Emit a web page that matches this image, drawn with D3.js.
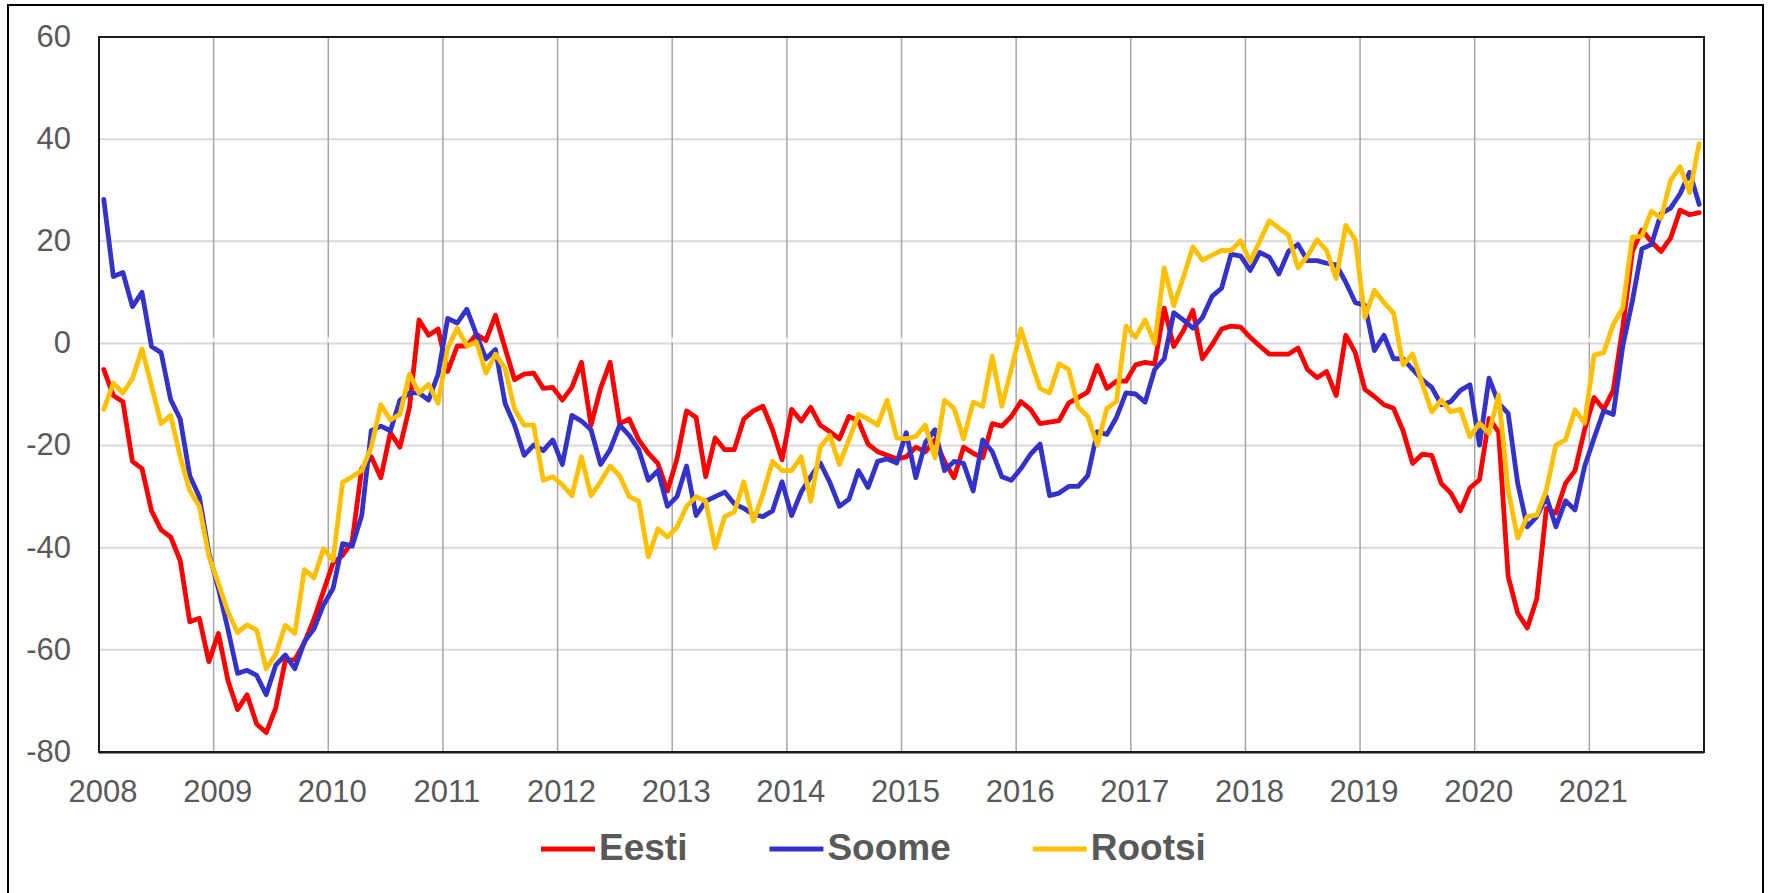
<!DOCTYPE html>
<html>
<head>
<meta charset="utf-8">
<script src="https://cdn.jsdelivr.net/npm/d3@7"></script>
<style>
  html, body { margin: 0; padding: 0; background: #fff; }
  svg { display: block; }
  text { font-family: "Liberation Sans", Arial, sans-serif; fill: #595959; }
</style>
</head>
<body>
<svg id="chart" width="1768" height="893"></svg>
<script>
// aastad (x-telje sildid), igal aastal 12 kuud
const years = ['2008','2009','2010','2011','2012','2013','2014','2015','2016','2017','2018','2019','2020','2021'];
const yTicks = [-80, -60, -40, -20, 0, 20, 40, 60];

// kuised väärtused 2008-01 ... 2021-12
const eesti = [
  -5.1, -10.2, -11.4, -23.1, -24.5, -32.8, -36.5, -37.9, -42.5, -54.5, -53.8, -62.3,
  -56.8, -66, -71.7, -68.8, -74.5, -76.2, -71.4, -62.1, -61.9, -58.6, -54, -48.5,
  -43, -41.5, -38.8, -24.5, -22.2, -26.3, -17.5, -20.3, -12.5, 4.6, 1.6, 2.8,
  -5.5, -0.5, -0.5, 1.8, 0.6, 5.5, -0.9, -7.1, -6, -5.8, -8.8, -8.6,
  -11.1, -8.6, -3.7, -16, -8.8, -3.7, -15.7, -14.8, -18.9, -21.5, -23.5, -28.9,
  -22.6, -13.2, -14.5, -26.1, -18.5, -20.8, -20.8, -14.8, -13.2, -12.3, -16.9, -22.8,
  -12.9, -15.2, -12.5, -16, -17.3, -18.7, -14.3, -15.2, -19.7, -21.2, -21.9, -22.6,
  -22.2, -20.3, -21.2, -18.9, -23.1, -26.3, -20.3, -21.5, -22.4, -15.7, -16.2, -14.3,
  -11.4, -12.9, -15.7, -15.4, -15.1, -11.7, -10.6, -9.5, -4.3, -8.8, -7.4, -7.4,
  -4.2, -3.7, -4, 6.9, -0.6, 2.5, 6.5, -3, -0.3, 2.8, 3.4, 3.2,
  1.2, -0.5, -2.1, -2.1, -2.1, -0.9, -5.1, -6.7, -5.5, -10.2, 1.6, -1.8,
  -9, -10.4, -12, -12.7, -17.1, -23.5, -21.7, -21.9, -27.4, -29.3, -32.8, -28.3,
  -26.7, -14.7, -17.3, -45.6, -52.8, -55.7, -50, -32.3, -33.2, -27.4, -24.9, -16.9,
  -10.6, -12.9, -9.2, 3.2, 18, 22.2, 19.9, 18, 20.6, 26.1, 25.2, 25.6
];

const soome = [
  28.2, 13.1, 13.9, 7.2, 10, -0.6, -1.8, -11, -14.8, -25.9, -30, -41,
  -48, -56, -64.6, -64, -65, -68.8, -63, -61, -63.7, -58.4, -55.9, -51.2,
  -48, -39.2, -39.7, -33.7, -17.1, -16.2, -17.1, -11.1, -9.7, -9.7, -11.1, -6,
  4.9, 4, 6.7, 1.8, -3, -1.2, -11.7, -16, -21.9, -19.9, -21, -18.9,
  -23.7, -14.1, -15.2, -16.9, -23.7, -20.8, -16, -18, -20.8, -26.8, -24.9, -31.9,
  -30, -24, -33.7, -30.9, -30, -29.1, -31.4, -32.3, -33.5, -33.9, -32.8, -27.1,
  -33.7, -29.1, -26.1, -23.4, -27.2, -31.9, -30.5, -24.9, -28.2, -23.1, -22.6, -23.4,
  -17.5, -26.3, -19.4, -16.9, -24.9, -23.1, -23.5, -28.9, -18.9, -21.2, -26.1, -26.8,
  -24.5, -21.7, -19.7, -29.8, -29.3, -28, -28, -25.9, -17.3, -17.8, -14.5, -9.7,
  -9.9, -11.5, -5.1, -3, 6, 4.6, 3, 5.1, 9.2, 10.8, 17.5, 17.1,
  14.3, 17.8, 16.9, 13.6, 18, 19.4, 16.2, 16.2, 15.7, 15.4, 12, 8,
  7.5, -1.4, 1.6, -3, -3, -5.1, -7.1, -8.6, -12, -11.4, -9.2, -8.1,
  -19.9, -6.8, -11.7, -13.7, -27.4, -35.9, -33.9, -30, -35.9, -30.8, -32.6, -24.1,
  -18.5, -13.2, -13.9, -0.5, 8.3, 18.5, 19.4, 25.4, 26.5, 29.3, 33.5, 27.2
];

const rootsi = [
  -12.9, -7.8, -9.7, -6.9, -1.1, -8.3, -15.7, -14.1, -22.2, -28.8, -31.9, -41.6,
  -47, -52.6, -56.6, -55.1, -56.1, -63.7, -60.9, -55.2, -56.8, -44.3, -45.9, -40.2,
  -42.5, -27.2, -26.1, -24.9, -20.3, -12, -15, -13.9, -6, -9.7, -8, -11.7,
  -0.9, 3, -0.5, 0.3, -5.8, -2.1, -4.9, -12.9, -16, -16, -26.8, -26.1,
  -27.7, -29.8, -22.2, -29.8, -27.1, -24, -25.9, -30, -30.9, -41.8, -36.3, -37.9,
  -36, -31.9, -30, -30.9, -40, -33.9, -33, -27.1, -34.8, -29.5, -23.1, -24.9,
  -24.9, -22.2, -30.9, -20.3, -18, -23.7, -18.9, -13.9, -14.8, -16, -11.1, -18.5,
  -18.7, -18.2, -16, -22.4, -11.1, -12.7, -18.7, -11.5, -12.3, -2.5, -12.3, -5.1,
  2.8, -3.2, -8.8, -9.7, -4, -5.1, -12.5, -14.3, -19.9, -12.7, -11.4, 3.4,
  1.2, 4.6, 0, 14.8, 7.4, 12.9, 18.9, 16.3, 17.3, 18.2, 18.2, 20.1,
  16, 20, 24, 22.6, 21.2, 14.8, 17.1, 20.3, 18.2, 12.7, 23.1, 20.3,
  5.1, 10.4, 8, 6, -4.2, -2.1, -7.8, -13.4, -11.1, -13.4, -12.9, -18.3,
  -15.6, -17.6, -10.1, -28.7, -38.1, -33.9, -33.6, -28.7, -19.9, -18.9, -13, -15.6,
  -2.3, -1.8, 3.7, 6.9, 20.8, 21, 25.9, 24.5, 31.9, 34.6, 29.5, 39.1
];

const seriesNames = ['Eesti', 'Soome', 'Rootsi'];
const seriesColors = ['#ff0000', '#3333cc', '#ffc000'];
const seriesData = [eesti, soome, rootsi];

/* ─── mõõdud ─── */
const W = 1768, H = 893;
const plot = { left: 99, right: 1704, top: 37, bottom: 752 };
const nMonths = years.length * 12;

const svg = d3.select('#chart');
svg.append('rect').attr('width', W).attr('height', H).attr('fill', '#fff');

// välimine raam (alumine serv jääb pildist välja)
svg.append('rect')
  .attr('x', 8).attr('y', 5).attr('width', 1755).attr('height', 910)
  .attr('fill', 'none').attr('stroke', '#000').attr('stroke-width', 2);

const x = d3.scaleLinear().domain([0, nMonths]).range([plot.left, plot.right]);
const y = d3.scaleLinear().domain([-80, 60]).range([plot.bottom, plot.top]);

// horisontaalsed abijooned
svg.append('g')
  .selectAll('line')
  .data(yTicks)
  .join('line')
  .attr('x1', plot.left).attr('x2', plot.right)
  .attr('y1', d => y(d)).attr('y2', d => y(d))
  .attr('stroke', '#d9d9d9').attr('stroke-width', 2);

// vertikaalsed abijooned aastavahetustel
svg.append('g')
  .selectAll('line')
  .data(d3.range(1, years.length))
  .join('line')
  .attr('x1', i => x(i * 12)).attr('x2', i => x(i * 12))
  .attr('y1', plot.top).attr('y2', plot.bottom)
  .attr('stroke', '#a6a6a6').attr('stroke-width', 1.5);

// x-telg nulljoonel: valged kriipsud
svg.append('g')
  .selectAll('line')
  .data(d3.range(0, years.length + 1))
  .join('line')
  .attr('x1', i => x(i * 12)).attr('x2', i => x(i * 12))
  .attr('y1', y(0) - 6).attr('y2', y(0) - 1)
  .attr('stroke', '#f2f2f2').attr('stroke-width', 2);

// telgede sildid
svg.append('g')
  .selectAll('text')
  .data(yTicks)
  .join('text')
  .attr('x', 71).attr('y', d => y(d)).attr('dy', '0.32em')
  .attr('text-anchor', 'end').attr('font-size', 31)
  .text(d => d);

svg.append('g')
  .selectAll('text')
  .data(years)
  .join('text')
  .attr('x', (d, i) => x(i * 12) + 4).attr('y', 802)
  .attr('text-anchor', 'middle').attr('font-size', 31)
  .text(d => d);

// jooned
const line = d3.line()
  .x((d, i) => x(i + 0.5))
  .y(d => y(d));

seriesData.forEach((vals, k) => {
  svg.append('path')
    .datum(vals)
    .attr('d', line)
    .attr('fill', 'none')
    .attr('stroke', seriesColors[k])
    .attr('stroke-width', 4.8)
    .attr('stroke-linejoin', 'round')
    .attr('stroke-linecap', 'round');
});

// joonise raam
svg.append('rect')
  .attr('x', plot.left).attr('y', plot.top)
  .attr('width', plot.right - plot.left).attr('height', plot.bottom - plot.top)
  .attr('fill', 'none').attr('stroke', '#1a1a1a').attr('stroke-width', 2);
svg.append('line')
  .attr('x1', plot.left).attr('x2', plot.right)
  .attr('y1', plot.bottom + 0.5).attr('y2', plot.bottom + 0.5)
  .attr('stroke', '#1a1a1a').attr('stroke-width', 2);

// legend
const legend = svg.append('g');
let lx = 541;
seriesNames.forEach((name, k) => {
  legend.append('line')
    .attr('x1', lx).attr('x2', lx + 54)
    .attr('y1', 849).attr('y2', 849)
    .attr('stroke', seriesColors[k]).attr('stroke-width', 5);
  const t = legend.append('text')
    .attr('x', lx + 58).attr('y', 860)
    .attr('font-size', 37).attr('font-weight', 700)
    .text(name);
  lx += 58 + t.node().getComputedTextLength() + 82;
});
</script>
</body>
</html>
